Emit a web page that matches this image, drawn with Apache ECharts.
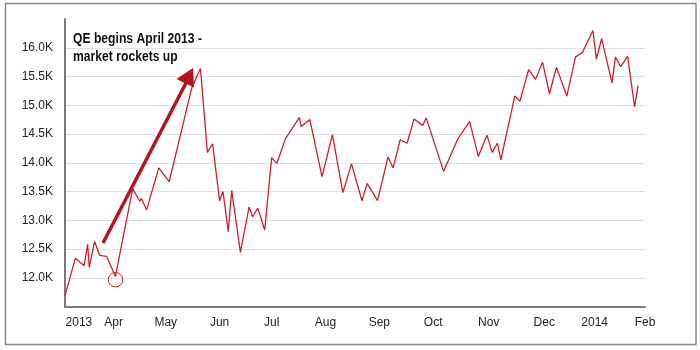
<!DOCTYPE html>
<html>
<head>
<meta charset="utf-8">
<script src="https://cdn.jsdelivr.net/npm/echarts@6/dist/echarts.min.js"></script>
<style>
  html, body { margin: 0; padding: 0; background: #fff; }
  #main { width: 700px; height: 350px; }
</style>
</head>
<body>
<div id="main"></div>
<script>
  // dates of the plotted points
  var dates = [
    '2013-03-04', '2013-03-10', '2013-03-15', '2013-03-17', '2013-03-18', '2013-03-21', '2013-03-24', '2013-03-28',
    '2013-04-02', '2013-04-12', '2013-04-16', '2013-04-17', '2013-04-20', '2013-04-27', '2013-05-03', '2013-05-14',
    '2013-05-16', '2013-05-21', '2013-05-25', '2013-05-28', '2013-06-01', '2013-06-03', '2013-06-06', '2013-06-08',
    '2013-06-13', '2013-06-18', '2013-06-20', '2013-06-23', '2013-06-27', '2013-07-01', '2013-07-04', '2013-07-09',
    '2013-07-17', '2013-07-18', '2013-07-23', '2013-07-30', '2013-08-05', '2013-08-11', '2013-08-16', '2013-08-22',
    '2013-08-25', '2013-08-31', '2013-09-06', '2013-09-09', '2013-09-13', '2013-09-17', '2013-09-21', '2013-09-26',
    '2013-09-28', '2013-10-08', '2013-10-16', '2013-10-23', '2013-10-28', '2013-11-02', '2013-11-05', '2013-11-08',
    '2013-11-10', '2013-11-18', '2013-11-21', '2013-11-26', '2013-11-30', '2013-12-04', '2013-12-08', '2013-12-12',
    '2013-12-18', '2013-12-23', '2013-12-27', '2014-01-02', '2014-01-04', '2014-01-07', '2014-01-13', '2014-01-15',
    '2014-01-18', '2014-01-22', '2014-01-26', '2014-01-28'
  ];
  // index level
  var values = [
    11690, 12340, 12210, 12580, 12180, 12630, 12390, 12370,
    12020, 13550, 13330, 13380, 13180, 13910, 13670, 15050,
    15300, 15640, 14180, 14330, 13340, 13500, 12800, 13520,
    12440, 13230, 13060, 13210, 12830, 14090, 13990, 14420,
    14790, 14630, 14750, 13760, 14490, 13480, 13980, 13340,
    13640, 13340, 14100, 13910, 14400, 14340, 14760, 14650,
    14780, 13850, 14400, 14720, 14110, 14480, 14180, 14340,
    14050, 15160, 15070, 15620, 15450, 15750, 15200, 15660,
    15160, 15840, 15920, 16300, 15800, 16160, 15390, 15840,
    15670, 15850, 14970, 15340
  ];
  // x axis labels and where they sit
  var xLabels = ['2013', 'Apr', 'May', 'Jun', 'Jul', 'Aug', 'Sep', 'Oct', 'Nov', 'Dec', '2014', 'Feb'];
  var xLabelDates = ['2013-03-12', '2013-04-01', '2013-05-01', '2013-06-01', '2013-07-01', '2013-08-01',
    '2013-09-01', '2013-10-02', '2013-11-03', '2013-12-05', '2014-01-03', '2014-02-01'];
  var xMin = '2013-03-04';
  var xMax = '2014-02-01';

  function t(s) {
    var p = s.split('-');
    return Date.UTC(+p[0], +p[1] - 1, +p[2]);
  }

  var labelByTime = {};
  xLabelDates.forEach(function (d, i) { labelByTime[t(d)] = xLabels[i]; });

  var seriesData = dates.map(function (d, i) { return [t(d), values[i]]; });

  var red = '#c9202f';
  var darkRed = '#b3141f';

  var myChart = echarts.init(document.getElementById('main'));
  var option = {
    backgroundColor: '#fff',
    animation: false,
    grid: { left: 65, right: 55, top: 19, bottom: 43.5 },
    xAxis: {
      type: 'value',
      min: t(xMin),
      max: t(xMax),
      axisLine: { show: true, lineStyle: { color: '#7a7a7a', width: 2 } },
      axisTick: { show: false },
      splitLine: { show: false },
      axisLabel: {
        customValues: xLabelDates.map(t),
        formatter: function (v) { return labelByTime[v] || ''; },
        color: '#222',
        fontSize: 12,
        fontFamily: 'Liberation Sans',
        margin: 10,
        hideOverlap: false,
        showMinLabel: true,
        showMaxLabel: true
      }
    },
    yAxis: {
      type: 'value',
      min: 11500,
      max: 16500,
      interval: 500,
      axisLine: { show: true, lineStyle: { color: '#7a7a7a', width: 2 } },
      axisTick: { show: false },
      splitLine: { show: true, showMaxLine: false, lineStyle: { color: '#e0e0e0', width: 1 } },
      axisLabel: {
        showMinLabel: false,
        showMaxLabel: false,
        formatter: function (v) { return (v / 1000).toFixed(1) + 'K'; },
        color: '#222',
        fontSize: 12,
        fontFamily: 'Liberation Sans',
        margin: 12
      }
    },
    series: [{
      type: 'line',
      data: seriesData,
      showSymbol: false,
      lineStyle: { color: red, width: 1.3 },
      itemStyle: { color: red }
    }],
    graphic: [
      // outer frame
      {
        type: 'rect',
        shape: { x: 5.5, y: 3.5, width: 690.5, height: 341 },
        style: { fill: 'none', stroke: '#8a8a8a', lineWidth: 1.5 },
        silent: true
      },
      // note (condensed bold look: squeeze a normal bold face)
      {
        type: 'text',
        x: 73,
        y: 30,
        scaleX: 0.81,
        style: {
          text: 'QE begins April 2013 -\nmarket rockets up',
          font: 'bold 15px "Liberation Sans", Arial, sans-serif',
          fill: '#111',
          lineHeight: 18
        },
        z: 100
      },
      // arrow shaft + head
      {
        type: 'line',
        shape: { x1: 103, y1: 243, x2: 186, y2: 83 },
        style: { stroke: darkRed, lineWidth: 3.5 },
        z: 100
      },
      {
        type: 'polygon',
        shape: { points: [[193, 68], [176.5, 79], [194, 87.5]] },
        style: { fill: darkRed },
        z: 100
      },
      // circle round the April low
      {
        type: 'circle',
        shape: { cx: 115.5, cy: 279.7, r: 7.2 },
        style: { fill: 'none', stroke: red, lineWidth: 1 },
        z: 100
      }
    ]
  };
  myChart.setOption(option);
</script>
</body>
</html>
